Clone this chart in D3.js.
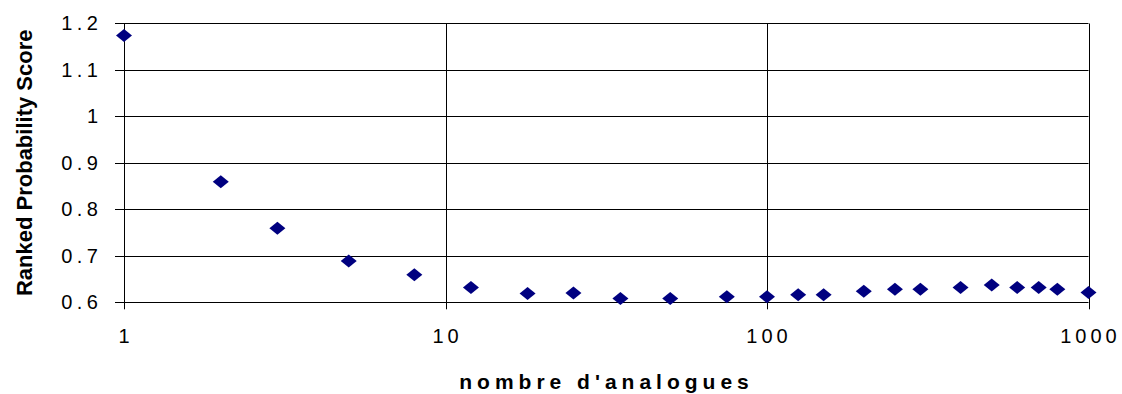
<!DOCTYPE html>
<html>
<head>
<meta charset="utf-8">
<script src="https://cdn.jsdelivr.net/npm/d3@7"></script>
<style>
  html, body { margin: 0; padding: 0; background: #fff; }
  svg { display: block; }
</style>
</head>
<body>
<svg id="chart" width="1122" height="394"></svg>
<script>
// ---- data ----
const analogues = [1, 2, 3, 5, 8, 12, 18, 25, 35, 50, 75, 100, 125, 150, 200, 250, 300, 400, 500, 600, 700, 800, 1000];
const rps = [1.174, 0.859, 0.759, 0.689, 0.659, 0.632, 0.619, 0.620, 0.608, 0.608, 0.612, 0.612, 0.616, 0.616, 0.624, 0.628, 0.628, 0.632, 0.637, 0.632, 0.632, 0.628, 0.621];
const xTicks = [1, 10, 100, 1000];
const xTickLabels = ["1", "10", "100", "1000"];
const yTicks = [0.6, 0.7, 0.8, 0.9, 1.0, 1.1, 1.2];
const yTickLabels = ["0.6", "0.7", "0.8", "0.9", "1", "1.1", "1.2"];
const xTitle = "nombre d'analogues";
const yTitle = "Ranked Probability Score";

// ---- layout ----
const svg = d3.select("#chart");
const plotLeft = 124, plotRight = 1088.5, plotTop = 23.3, plotBottom = 302.3;
const x = d3.scaleLog().domain([1, 1000]).range([plotLeft, plotRight]);
const y = d3.scaleLinear().domain([0.6, 1.2]).range([plotBottom, plotTop]);
const font = "'Liberation Sans', Arial, sans-serif";

// horizontal gridlines (incl. ticks to the left)
svg.append("g").selectAll("line").data(yTicks).join("line")
  .attr("x1", plotLeft - 9).attr("x2", plotRight)
  .attr("y1", d => Math.round(y(d)) + 0.5).attr("y2", d => Math.round(y(d)) + 0.5)
  .attr("stroke", "#000").attr("stroke-width", 1);

// vertical gridlines + left axis (incl. ticks below)
svg.append("g").selectAll("line").data(xTicks).join("line")
  .attr("x1", d => Math.round(x(d)) + 0.5).attr("x2", d => Math.round(x(d)) + 0.5)
  .attr("y1", Math.round(plotTop) + 0.5).attr("y2", plotBottom + 7)
  .attr("stroke", "#000").attr("stroke-width", 1);

// y tick labels
svg.append("g").selectAll("text").data(yTicks).join("text")
  .attr("x", 98).attr("y", d => y(d) + 7)
  .attr("text-anchor", "end")
  .attr("dx", 4.5)
  .style("letter-spacing", "4.5px")
  .attr("font-family", font).attr("font-size", 20).attr("fill", "#000")
  .text((d, i) => yTickLabels[i]);

// x tick labels
svg.append("g").selectAll("text").data(xTicks).join("text")
  .attr("x", d => x(d)).attr("y", 343)
  .attr("text-anchor", "middle")
  .attr("dx", 2)
  .style("letter-spacing", "4px")
  .attr("font-family", font).attr("font-size", 20).attr("fill", "#000")
  .text((d, i) => xTickLabels[i]);

// markers (diamonds)
const diamond = "M0,-6.5L8,0L0,6.5L-8,0Z";
svg.append("g").selectAll("path").data(analogues).join("path")
  .attr("transform", (d, i) => `translate(${x(d)},${y(rps[i])})`)
  .attr("d", diamond)
  .attr("fill", "#000080");

// axis titles
svg.append("text")
  .attr("x", 604 + 2.5).attr("y", 389)
  .attr("text-anchor", "middle")
  .style("letter-spacing", "5px")
  .attr("font-family", font).attr("font-size", 21).attr("font-weight", "bold")
  .attr("fill", "#000")
  .text(xTitle);

svg.append("text")
  .attr("transform", `translate(32,${(plotTop + plotBottom) / 2}) rotate(-90)`)
  .attr("text-anchor", "middle")
  .attr("font-family", font).attr("font-size", 22).attr("font-weight", "bold")
  .attr("fill", "#000")
  .text(yTitle);
</script>
</body>
</html>
